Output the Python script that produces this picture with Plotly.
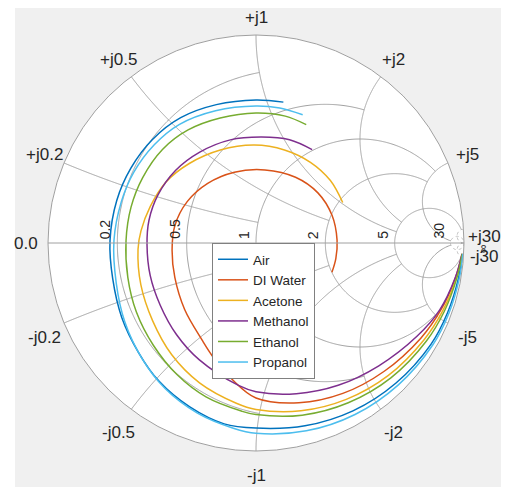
import numpy as np
import plotly.graph_objects as go

# ---------------- data (S11 magnitude / phase in degrees) -------------
series_names = ["Air", "DI Water", "Acetone", "Methanol", "Ethanol", "Propanol"]
series_colors = ["#0072BD", "#D95319", "#EDB120", "#7E2F8E", "#77AC30", "#4DBEEE"]

air_mag = [0.690, 0.688, 0.692, 0.703, 0.704, 0.701, 0.700, 0.702, 0.710, 0.738, 0.772,
           0.812, 0.850, 0.883, 0.890, 0.910, 0.932, 0.952, 0.972, 0.980, 0.988, 0.994]
air_phase = [79, 90, 106, 121, 135, 149, 163, 179, 194, 209, 223,
             235, 248, 260, 270, 285, 300, 315, 330, 340, 350, 357]

water_mag = [0.391, 0.391, 0.390, 0.389, 0.383, 0.369, 0.354, 0.356, 0.369, 0.386, 0.399,
             0.405, 0.424, 0.469, 0.534, 0.590, 0.665, 0.745, 0.795, 0.835, 0.872, 0.915,
             0.945, 0.973, 0.992]
water_phase = [-21, -11, 2, 20, 39, 59, 83, 107, 129, 149, 168,
               185, 203, 223, 241, 250, 260, 270, 285, 300, 315, 330,
               340, 350, 357]

acetone_mag = [0.460, 0.467, 0.468, 0.468, 0.471, 0.479, 0.499, 0.523, 0.538, 0.556, 0.568,
               0.589, 0.622, 0.673, 0.725, 0.776, 0.800, 0.835, 0.868, 0.900, 0.932, 0.955,
               0.977, 0.993]
acetone_phase = [25, 40, 56, 73, 91, 111, 130, 146, 161, 174, 183,
                 200, 217, 233, 248, 263, 270, 285, 300, 315, 330, 340,
                 350, 357]

methanol_mag = [0.524, 0.522, 0.510, 0.511, 0.514, 0.521, 0.525, 0.526, 0.524, 0.532, 0.549,
                0.583, 0.624, 0.690, 0.715, 0.750, 0.790, 0.835, 0.895, 0.940, 0.972, 0.992]
methanol_phase = [59, 72, 87, 104, 122, 138, 154, 168, 181, 197, 213,
                  229, 244, 263, 270, 285, 300, 315, 330, 340, 350, 357]

ethanol_mag = [0.618, 0.626, 0.625, 0.625, 0.634, 0.636, 0.629, 0.625, 0.625, 0.638, 0.664,
               0.697, 0.738, 0.778, 0.811, 0.825, 0.857, 0.887, 0.917, 0.945, 0.963, 0.980,
               0.993]
ethanol_phase = [67, 77, 90, 106, 121, 135, 150, 164, 179, 195, 210,
                 225, 239, 252, 265, 270, 285, 300, 315, 330, 340, 350,
                 357]

propanol_mag = [0.656, 0.659, 0.659, 0.665, 0.679, 0.680, 0.679, 0.677, 0.683, 0.699, 0.736,
                0.779, 0.825, 0.865, 0.897, 0.915, 0.935, 0.952, 0.966, 0.981, 0.987, 0.992,
                0.996]
propanol_phase = [70, 80, 90, 107, 123, 136, 150, 163, 179, 196, 211,
                  225, 238, 251, 263, 270, 285, 300, 315, 330, 340, 350,
                  357]

# Smith chart grid values and the value where each grid circle stops
grid_values = [0.2, 0.5, 1, 2, 5, 30]
grid_limits = [1, 2, 5, 5, 30, np.inf]

# ---------------- layout constants ----------------
W, H = 509, 487
OFF = 8                             # the page body margin shifts the figure by 8 px
CX, CY, R = 256 - OFF, 243 - OFF, 208   # chart centre / radius in figure pixels
GRID = "#a0a0a0"
TXT = "#262626"
FONT = "Liberation Sans, Arial, sans-serif"

mags = [air_mag, water_mag, acetone_mag, methanol_mag, ethanol_mag, propanol_mag]
phases = [air_phase, water_phase, acetone_phase, methanol_phase, ethanol_phase, propanol_phase]


def gamma_to_z(mag, ph):
    g = np.asarray(mag) * np.exp(1j * np.deg2rad(np.asarray(ph, dtype=float)))
    z = (1 + g) / (1 - g)
    return z.real, z.imag


fig = go.Figure()

# grid: constant-resistance and constant-reactance arcs, clipped like MATLAB's smithplot
for v, lim in zip(grid_values, grid_limits):
    L = 1e4 if np.isinf(lim) else lim
    dash = "dot" if v >= 30 else "solid"
    col = "#b5b5b5" if v >= 30 else GRID
    tmax = np.arctan(L / (1 + v))
    t = np.linspace(-tmax, tmax, 500)
    fig.add_trace(go.Scattersmith(real=np.full_like(t, v), imag=(1 + v) * np.tan(t),
                                  mode="lines", line=dict(color=col, width=1, dash=dash),
                                  hoverinfo="skip", showlegend=False))
    for s in (1, -1):
        t = np.linspace(0, np.arctan(L), 400)
        fig.add_trace(go.Scattersmith(real=np.tan(t), imag=np.full_like(t, s * v),
                                      mode="lines", line=dict(color=col, width=1, dash=dash),
                                      hoverinfo="skip", showlegend=False))

# data
for name, col, m, p in zip(series_names, series_colors, mags, phases):
    re, im = gamma_to_z(m, p)
    fig.add_trace(go.Scattersmith(real=re, imag=im, mode="lines", name=name,
                                  line=dict(color=col, width=1.5, shape="spline", smoothing=1.0)))

# labels
ann = []


def paper(px, py):
    return px / W, 1 - py / H


for v in grid_values:
    # real-axis labels (rotated), just left of the crossing point
    g = (v - 1) / (v + 1)
    px = CX + R * g
    x, y = paper(px - 2, CY - 2)
    ann.append(dict(x=x, y=y, xref="paper", yref="paper", text=f"{v:g}", textangle=-90,
                    xanchor="right", yanchor="bottom", showarrow=False,
                    font=dict(size=14, color=TXT, family=FONT)))
    # imaginary labels
    for s in (1, -1):
        z = complex(0, s * v)
        g = (z - 1) / (z + 1)
        th = np.angle(g)
        px = CX + (R + 21) * np.cos(th)
        py = CY - (R + 21) * np.sin(th)
        if abs(np.degrees(th)) < 10:
            py = CY - s * 7
        if s < 0:
            py += 6
        py = min(max(py, 10), H - 20)
        px = min(px, W - 30)
        x, y = paper(px, py)
        txt = ("+j" if s > 0 else "-j") + f"{v:g}"
        ann.append(dict(x=x, y=y, xref="paper", yref="paper", text=txt,
                        xanchor="center", yanchor="middle", showarrow=False,
                        font=dict(size=17, color=TXT, family=FONT)))

x, y = paper(CX - R - 22, CY)
ann.append(dict(x=x, y=y, xref="paper", yref="paper", text="0.0", xanchor="center",
                yanchor="middle", showarrow=False, font=dict(size=17, color=TXT, family=FONT)))
x, y = paper(CX + R + 19, CY + 6)
ann.append(dict(x=x, y=y, xref="paper", yref="paper", text="∞", textangle=-90, xanchor="center",
                yanchor="middle", showarrow=False, font=dict(size=12, color=TXT, family=FONT)))

fig.update_layout(
    width=W, height=H,
    margin=dict(l=0, r=0, t=0, b=0),
    paper_bgcolor="#f0f0f0",
    plot_bgcolor="#f0f0f0",
    smith=dict(
        domain=dict(x=[(CX - R) / W, (CX + R) / W], y=[1 - (CY + R) / H, 1 - (CY - R) / H]),
        bgcolor="white",
        realaxis=dict(showgrid=False, showticklabels=False, ticks="", showline=True,
                      linecolor=GRID, linewidth=1),
        imaginaryaxis=dict(showgrid=False, showticklabels=False, ticks="", showline=True,
                           linecolor=GRID, linewidth=1),
    ),
    legend=dict(x=(212 - OFF) / W, y=1 - (243 - OFF) / H, xanchor="left", yanchor="top",
                bgcolor="white", bordercolor="#808080", borderwidth=1,
                font=dict(size=13.5, color=TXT, family=FONT)),
    annotations=ann,
    shapes=[
        dict(type="rect", xref="paper", yref="paper", x0=0, x1=7 / W, y0=0, y1=1,
             fillcolor="white", line=dict(width=0), layer="below"),
    ],
    showlegend=True,
)

fig.write_html("out.html")
